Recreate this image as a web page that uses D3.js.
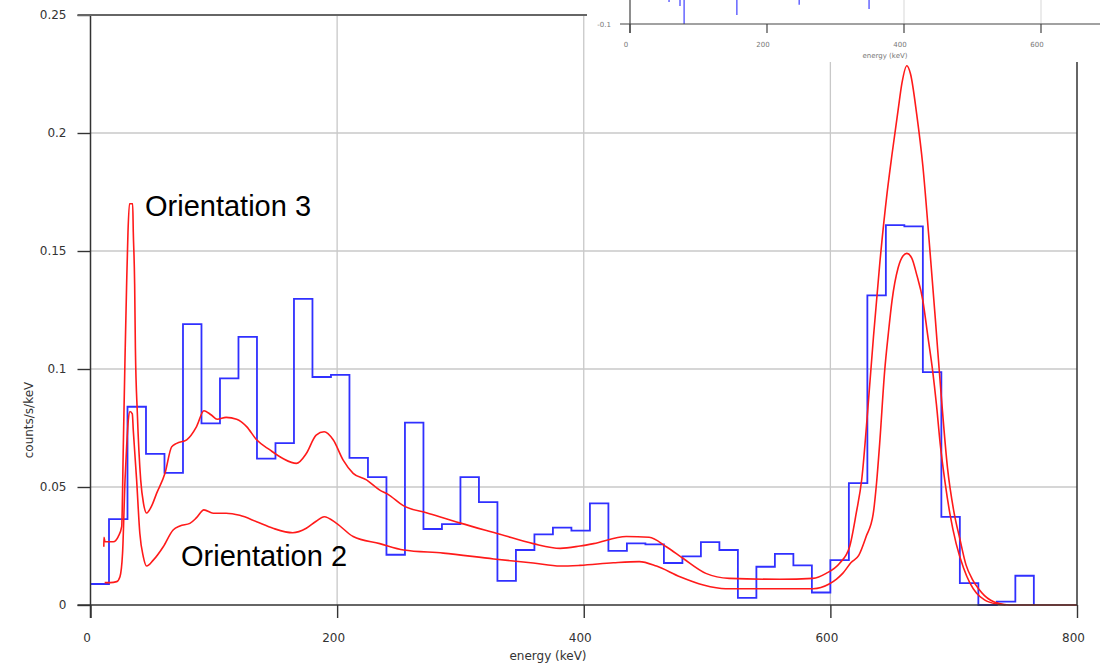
<!DOCTYPE html>
<html lang="en">
<head>
<meta charset="utf-8">
<title>counts/s/keV vs energy</title>
<script src="https://d3js.org/d3.v7.min.js"></script>
<style>
  body { margin: 0; background: #fff; }
  svg { display: block; background: #fff; }
  .axis text { font-family: "DejaVu Sans", Verdana, sans-serif; font-size: 12px; fill: #333; }
  .axis line { stroke: #333; stroke-width: 1.4; }
  .grid line { stroke: #c8c8c8; stroke-width: 1.3; }
  .note { font-family: "Liberation Sans", Arial, sans-serif; font-size: 29px; fill: #000; }
  .inset text { font-family: "DejaVu Sans", Verdana, sans-serif; font-size: 7px; fill: #777; }
</style>
</head>
<body>
<script>
// axis ticks
var energyTicks = [0, 200, 400, 600, 800];
var countTicks = [0, 0.05, 0.1, 0.15, 0.2, 0.25];

// measured spectrum, 15 keV bins starting at 0 keV
var binWidth = 15;
var measured = [0.0089, 0.0364, 0.084, 0.064, 0.056, 0.119, 0.077, 0.096, 0.1136, 0.062,
  0.0686, 0.1297, 0.0966, 0.0975, 0.0623, 0.0542, 0.0213, 0.0773, 0.0322, 0.0343,
  0.0542, 0.0436, 0.0102, 0.0233, 0.0299, 0.0328, 0.0315, 0.0431, 0.0229, 0.0261,
  0.0257, 0.0178, 0.0206, 0.0266, 0.0233, 0.003, 0.0162, 0.0217, 0.0168, 0.0053,
  0.019, 0.0516, 0.1312, 0.161, 0.1604, 0.0987, 0.0373, 0.0093, 0, 0.0014, 0.0124];

// simulated spectra [keV, counts/s/keV]
var orientation3 = [[10.8, 0.0247], [10.9, 0.0287], [11.8, 0.0268], [18.5, 0.0268], [22.5, 0.029],
  [25.3, 0.0332], [26.6, 0.067], [28, 0.105], [29.3, 0.136], [30.4, 0.158], [31.6, 0.17],
  [34.2, 0.17], [34.7, 0.158], [35.8, 0.136], [36.4, 0.109], [38, 0.081], [40.7, 0.053],
  [43, 0.043], [45.5, 0.039], [49.6, 0.042], [53.6, 0.0473], [60.4, 0.0558], [65.8, 0.067],
  [69.9, 0.0685], [78, 0.07], [86, 0.0756], [92, 0.0823], [98, 0.0805], [102.8, 0.0787],
  [110, 0.0795], [118.5, 0.0787], [126.6, 0.0756], [134.7, 0.07], [145.5, 0.0657],
  [156, 0.0621], [167, 0.06], [175, 0.0642], [183, 0.072], [189.5, 0.0734], [196.8, 0.07],
  [204.9, 0.0614], [213, 0.0558], [223.8, 0.053], [234.6, 0.0487], [241, 0.047], [254, 0.042],
  [273, 0.039], [300, 0.0347], [332, 0.03], [359, 0.026], [381, 0.024], [397, 0.025],
  [408, 0.026], [434.5, 0.029], [453, 0.0287], [467, 0.0247], [480.4, 0.0198], [499, 0.0134],
  [518, 0.0113], [559, 0.0109], [585.7, 0.0113], [596.6, 0.0134], [607.5, 0.0177],
  [615.6, 0.0247], [621, 0.039], [625.5, 0.0535], [630.5, 0.0839], [635, 0.114], [640, 0.1444],
  [646, 0.1746], [650, 0.191], [655, 0.21], [658, 0.221], [662, 0.2285], [665, 0.225],
  [670, 0.208], [675, 0.186], [680, 0.155], [685, 0.122], [690, 0.088], [695, 0.058],
  [700, 0.04], [705, 0.028], [710, 0.017], [715, 0.011], [720, 0.007], [725, 0.004],
  [730, 0.002], [737, 0.0006], [745, 0], [800, 0]];

var orientation2 = [[11.5, 0.0095], [16, 0.0095], [21.2, 0.0099], [23.9, 0.012], [26, 0.022],
  [28, 0.053], [29.3, 0.067], [30.6, 0.078], [32, 0.082], [33.9, 0.081], [34.7, 0.074],
  [37.4, 0.053], [40, 0.0304], [42.8, 0.0205], [45.5, 0.0165], [50.9, 0.019], [59, 0.0247],
  [67, 0.0318], [72.5, 0.0335], [80.6, 0.0346], [86, 0.037], [92, 0.0403], [99.5, 0.0389],
  [110, 0.0389], [121, 0.038], [134.7, 0.0353], [148, 0.0325], [164, 0.0306], [175, 0.0325],
  [183, 0.0355], [189.5, 0.0374], [199.5, 0.0346], [213, 0.029], [234.6, 0.026], [254, 0.0233],
  [286, 0.022], [327, 0.0195], [359, 0.0178], [381, 0.0165], [397, 0.0168], [424, 0.0179],
  [445, 0.0184], [459, 0.0165], [478, 0.012], [497, 0.0085], [515, 0.0069], [586, 0.0069],
  [599, 0.0089], [605, 0.011], [610, 0.0134], [616.8, 0.018], [623, 0.021], [629, 0.029],
  [634.7, 0.0385], [637.5, 0.052], [640, 0.0686], [644, 0.099], [647, 0.115], [650, 0.129],
  [655, 0.143], [659, 0.148], [662, 0.149], [666, 0.147], [670, 0.14], [675, 0.129],
  [679, 0.114], [683, 0.099], [686, 0.085], [689, 0.0686], [693, 0.052], [697, 0.0385],
  [702, 0.026], [708, 0.0157], [713, 0.0095], [718.6, 0.005], [725, 0.0022], [735, 0.0004],
  [742, 0]];

// pasted-over corner of another plot: ticks and spikes [keV, lower end]
var insetTicks = [0, 200, 400, 600];
var insetSpikes = [[57, -0.054], [73, -0.0625], [79, -0.1], [156, -0.081], [247, -0.06], [349, -0.069]];

var w = 1100, h = 665;
var x = d3.scaleLinear().domain([0, 800]).range([90.5, 1077]);
var y = d3.scaleLinear().domain([0, 0.25]).range([605, 15]);

var svg = d3.select("body").append("svg").attr("width", w).attr("height", h);

// grid
var grid = svg.append("g").attr("class", "grid");
grid.selectAll(".gx").data(energyTicks.slice(1, -1)).enter().append("line")
  .attr("x1", d => x(d)).attr("x2", d => x(d)).attr("y1", y(0.25)).attr("y2", y(0));
grid.selectAll(".gy").data(countTicks.slice(1, -1)).enter().append("line")
  .attr("x1", x(0)).attr("x2", x(800)).attr("y1", d => y(d)).attr("y2", d => y(d));

// measured histogram
var steps = measured.map((v, i) => [i * binWidth, v]);
steps.push([measured.length * binWidth, measured[measured.length - 1]]);
steps.push([measured.length * binWidth, 0]);
svg.append("path")
  .attr("d", d3.line().x(d => x(d[0])).y(d => y(d[1])).curve(d3.curveStepAfter)(steps))
  .attr("fill", "none").attr("stroke", "#3030ff").attr("stroke-width", 1.8);

// simulated curves
var curve = d3.line().x(d => x(d[0])).y(d => y(d[1])).curve(d3.curveMonotoneX);
[orientation3, orientation2].forEach(function(s) {
  svg.append("path").attr("d", curve(s))
    .attr("fill", "none").attr("stroke", "#ff1a1a").attr("stroke-width", 1.6);
});

// axes
var yAxis = svg.append("g").attr("class", "axis").attr("transform", "translate(" + x(0) + ",0)")
  .call(d3.axisLeft(y).tickValues(countTicks).tickSize(13).tickPadding(11).tickFormat(String));
yAxis.select(".domain").remove();
var xAxis = svg.append("g").attr("class", "axis").attr("transform", "translate(0," + y(0) + ")")
  .call(d3.axisBottom(x).tickValues(energyTicks).tickSize(13).tickPadding(15).tickFormat(String));
xAxis.select(".domain").remove();
xAxis.selectAll("text").attr("dx", -4);

// frame
svg.append("line").attr("x1", x(0)).attr("x2", x(0)).attr("y1", y(0.25)).attr("y2", y(0) + 13)
  .attr("stroke", "#333").attr("stroke-width", 1.5);
svg.append("line").attr("x1", x(0) - 13).attr("x2", x(800)).attr("y1", y(0)).attr("y2", y(0))
  .attr("stroke", "#333").attr("stroke-width", 1.5);
svg.append("line").attr("x1", x(0) - 13).attr("x2", x(800)).attr("y1", y(0.25)).attr("y2", y(0.25))
  .attr("stroke", "#666").attr("stroke-width", 1.8);
svg.append("line").attr("x1", x(800)).attr("x2", x(800)).attr("y1", y(0.25)).attr("y2", y(0))
  .attr("stroke", "#333").attr("stroke-width", 1.5);

// axis titles
svg.append("text").attr("transform", "translate(33,420) rotate(-90)")
  .attr("text-anchor", "middle")
  .style("font-family", "'DejaVu Sans', Verdana, sans-serif").style("font-size", "12px").style("fill", "#333")
  .text("counts/s/keV");
svg.append("text").attr("x", 548).attr("y", 660).attr("text-anchor", "middle")
  .style("font-family", "'DejaVu Sans', Verdana, sans-serif").style("font-size", "12px").style("fill", "#333")
  .text("energy (keV)");

// annotations
svg.append("text").attr("class", "note").attr("x", 145).attr("y", 216).text("Orientation 3");
svg.append("text").attr("class", "note").attr("x", 181).attr("y", 566).text("Orientation 2");

// inset in the top right corner
var ix = d3.scaleLinear().domain([0, 600]).range([630, 1041]);
var iy = d3.scaleLinear().domain([-0.1, -0.05]).range([24, 0]);
var inset = svg.append("g").attr("class", "inset");
inset.append("rect").attr("x", 587).attr("y", 0).attr("width", 513).attr("height", 62).attr("fill", "#fff");
inset.selectAll(".ig").data(insetTicks.slice(2)).enter().append("line")
  .attr("x1", d => ix(d)).attr("x2", d => ix(d)).attr("y1", 0).attr("y2", iy(-0.1))
  .attr("stroke", "#e4e4e4").attr("stroke-width", 1.5);
inset.selectAll(".sp").data(insetSpikes).enter().append("line")
  .attr("x1", d => ix(d[0])).attr("x2", d => ix(d[0])).attr("y1", 0).attr("y2", d => iy(d[1]))
  .attr("stroke", "#5a5aff").attr("stroke-width", 1.4);
inset.append("line").attr("x1", ix(0) - 10).attr("x2", 1100).attr("y1", iy(-0.1)).attr("y2", iy(-0.1))
  .attr("stroke", "#444").attr("stroke-width", 1.2);
inset.append("line").attr("x1", ix(0)).attr("x2", ix(0)).attr("y1", 0).attr("y2", iy(-0.1) + 9)
  .attr("stroke", "#444").attr("stroke-width", 1.2);
inset.selectAll(".it").data(insetTicks).enter().append("line")
  .attr("x1", d => ix(d)).attr("x2", d => ix(d)).attr("y1", iy(-0.1)).attr("y2", iy(-0.1) + 9)
  .attr("stroke", "#444").attr("stroke-width", 1.2);
inset.selectAll(".itl").data(insetTicks).enter().append("text")
  .attr("x", d => ix(d) - 4).attr("y", 47).attr("text-anchor", "middle").text(String);
inset.append("text").attr("x", 611).attr("y", iy(-0.1) + 2.5).attr("text-anchor", "end").text("-0.1");
inset.append("text").attr("x", 885).attr("y", 58).attr("text-anchor", "middle").text("energy (keV)");
</script>
</body>
</html>
